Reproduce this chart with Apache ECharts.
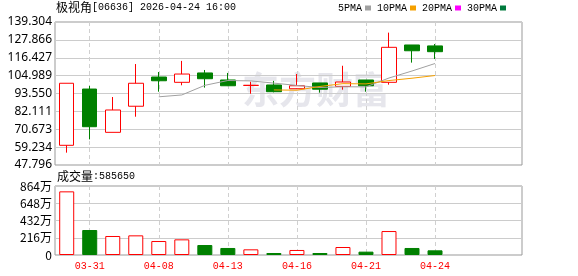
<!DOCTYPE html>
<html>
<head>
<meta charset="utf-8">
<script src="https://cdn.jsdelivr.net/npm/echarts@6/dist/echarts.min.js"></script>
<style>html,body{margin:0;padding:0;background:#fff;}#c{width:578px;height:276px;}</style>
</head>
<body>
<div id="c"></div>
<script>
// ---- data ----
const dates = ['03-30','03-31','04-01','04-02','04-08','04-09','04-10','04-13','04-14','04-15','04-16','04-17','04-20','04-21','04-22','04-23','04-24'];
const openP  = [60.4, 96.4, 68.7, 85.4, 104.1, 100.7, 106.7, 102.2, 98.7, 99.0, 96.6, 100.3, 98.1, 102.2, 100.7, 124.6, 124.0];
const closeP = [100.1, 72.3, 83.0, 100.1, 101.7, 106.0, 103.0, 98.5, 98.8, 94.7, 98.5, 96.3, 100.9, 98.5, 123.1, 120.9, 120.3];
const lowP   = [55.7, 64.2, 68.7, 78.7, 94.7, 98.8, 97.3, 98.3, 93.4, 94.3, 96.4, 94.1, 96.0, 94.7, 99.2, 113.3, 115.6];
const highP  = [100.1, 98.4, 91.3, 112.4, 107.3, 114.4, 108.6, 106.7, 101.1, 101.6, 106.0, 100.3, 111.3, 102.2, 132.5, 124.6, 125.2];
const volume = [797, 313, 238, 246, 175, 196, 125, 88, 71, 25, 63, 25, 100, 42, 300, 88, 58.565]; // 万
const ma5  = ['-','-','-','-', 91.44, 92.62, 98.76, 101.86, 101.6, 100.2, 98.7, 97.36, 97.84, 97.78, 103.46, 107.94, 112.74];
const ma10 = ['-','-','-','-','-','-','-','-','-', 95.82, 95.66, 98.06, 99.85, 99.69, 101.83, 103.32, 105.05];
const priceTicks = ['47.796','59.234','70.673','82.111','93.550','104.989','116.427','127.866','139.304'];
const volTicks = ['0','216万','432万','648万','864万'];
const emptySlots = 3;

const cats = dates.concat(Array.from({length: emptySlots}, (_, i) => ' '.repeat(i + 1)));
const kData = dates.map((d, i) => [openP[i], closeP[i], lowP[i], highP[i]]);
const volData = volume.map((v, i) => {
  const ref = i === 0 ? openP[0] : closeP[i - 1];
  const up = closeP[i] >= ref;
  return { value: v, itemStyle: up ? { color: '#fff', borderColor: '#ff0000', borderWidth: 1 } : { color: '#008000', borderColor: '#008000', borderWidth: 1 } };
});
const showIdx = (i) => i % 3 === 1 && i < dates.length;

const chart = echarts.init(document.getElementById('c'), null, { renderer: 'canvas' });
const bandW = 23.02;
const dataLeft = 55.2;
const dataWidth = bandW * cats.length;
const richTxt = {
  c: { fontSize: 12, color: '#000', fontFamily: 'Noto Sans CJK SC' },
  m: { fontSize: 10, color: '#000', fontFamily: 'Liberation Mono' }
};

chart.setOption({
  animation: false,
  title: [
    { text: '{c|极视角}{m|[06636] 2026-04-24 16:00}', left: 56, top: 1, padding: 0,
      textStyle: { fontSize: 12, fontWeight: 'normal', color: '#000', rich: richTxt } },
    { text: '{c|成交量}{m|:' + Math.round(volume[volume.length - 1] * 10000) + '}', left: 57, top: 170, padding: 0,
      textStyle: { fontSize: 12, fontWeight: 'normal', color: '#000', rich: richTxt } }
  ],
  legend: {
    data: ['5PMA', '10PMA', '20PMA', '30PMA'],
    left: 338, top: 3, padding: 0, itemGap: 6, itemWidth: 6, itemHeight: 5,
    align: 'right', icon: 'rect', selectedMode: false,
    textStyle: { fontFamily: 'Liberation Mono', fontSize: 10, color: '#000', padding: [0, -2, 0, 0] }
  },
  graphic: [
    { type: 'text', left: 242, top: 71, z: 0, silent: true,
      style: { text: '东方财富', fontSize: 37, fontWeight: 'bold', fill: '#e6e6ec', fontFamily: 'Noto Sans CJK SC' } }
  ],
  grid: [
    { left: 55, top: 22, width: 467, height: 143, show: true, borderColor: '#999', borderWidth: 1, backgroundColor: 'transparent' },
    { left: dataLeft, top: 22, width: dataWidth, height: 143 },
    { left: 55, top: 186, width: 467, height: 69, show: true, borderColor: '#999', borderWidth: 1, backgroundColor: 'transparent' },
    { left: dataLeft, top: 186, width: dataWidth, height: 69 }
  ],
  xAxis: [
    { gridIndex: 0, type: 'value', min: 0, max: 1, show: false },
    { gridIndex: 1, type: 'category', data: cats, boundaryGap: true,
      axisLine: { show: false }, axisTick: { show: false }, axisLabel: { show: false },
      splitLine: { show: true, alignWithLabel: true, interval: (i) => showIdx(i), lineStyle: { color: '#d0d0d0', type: [4, 3], width: 1 } } },
    { gridIndex: 2, type: 'value', min: 0, max: 1, show: false },
    { gridIndex: 3, type: 'category', data: cats, boundaryGap: true,
      axisLine: { show: false }, axisTick: { show: false },
      axisLabel: { show: true, interval: (i) => showIdx(i), color: '#ff0000', fontFamily: 'Liberation Mono', fontSize: 10, margin: 6 },
      splitLine: { show: true, alignWithLabel: true, interval: (i) => showIdx(i), lineStyle: { color: '#d0d0d0', type: [4, 3], width: 1 } } }
  ],
  yAxis: [
    { gridIndex: 0, type: 'value', min: 0, max: priceTicks.length - 1, interval: 1,
      axisLine: { show: false }, axisTick: { show: false },
      axisLabel: { formatter: (v) => priceTicks[v], color: '#000', fontFamily: 'Noto Sans', fontSize: 12, margin: 3 },
      splitLine: { lineStyle: { color: '#cccccc', width: 1 } } },
    { gridIndex: 1, type: 'value', min: 47.796, max: 139.304, show: false },
    { gridIndex: 2, type: 'value', min: 0, max: volTicks.length - 1, interval: 1,
      axisLine: { show: false }, axisTick: { show: false },
      axisLabel: { formatter: (v) => volTicks[v], color: '#000', fontFamily: 'Noto Sans CJK SC', fontSize: 12, margin: 3 },
      splitLine: { lineStyle: { color: '#cccccc', width: 1 } } },
    { gridIndex: 3, type: 'value', min: 0, max: 864, show: false }
  ],
  series: [
    { name: 'K', type: 'candlestick', xAxisIndex: 1, yAxisIndex: 1, data: kData, barWidth: 15, z: 3,
      itemStyle: { color: '#ffffff', color0: '#008000', borderColor: '#ff0000', borderColor0: '#008000', borderWidth: 1 } },
    { name: '5PMA', type: 'line', xAxisIndex: 1, yAxisIndex: 1, data: ma5, symbol: 'none', z: 4,
      itemStyle: { color: '#a0a0a0' }, lineStyle: { color: '#a0a0a0', width: 1 } },
    { name: '10PMA', type: 'line', xAxisIndex: 1, yAxisIndex: 1, data: ma10, symbol: 'none', z: 4,
      itemStyle: { color: '#f5a000' }, lineStyle: { color: '#f5a000', width: 1 } },
    { name: '20PMA', type: 'line', xAxisIndex: 1, yAxisIndex: 1, data: [], symbol: 'none',
      itemStyle: { color: '#ff00ff' }, lineStyle: { color: '#ff00ff', width: 1 } },
    { name: '30PMA', type: 'line', xAxisIndex: 1, yAxisIndex: 1, data: [], symbol: 'none',
      itemStyle: { color: '#007a3d' }, lineStyle: { color: '#007a3d', width: 1 } },
    { name: 'VOL', type: 'bar', xAxisIndex: 3, yAxisIndex: 3, data: volData, barWidth: 15, z: 3 }
  ]
});
</script>
</body>
</html>
